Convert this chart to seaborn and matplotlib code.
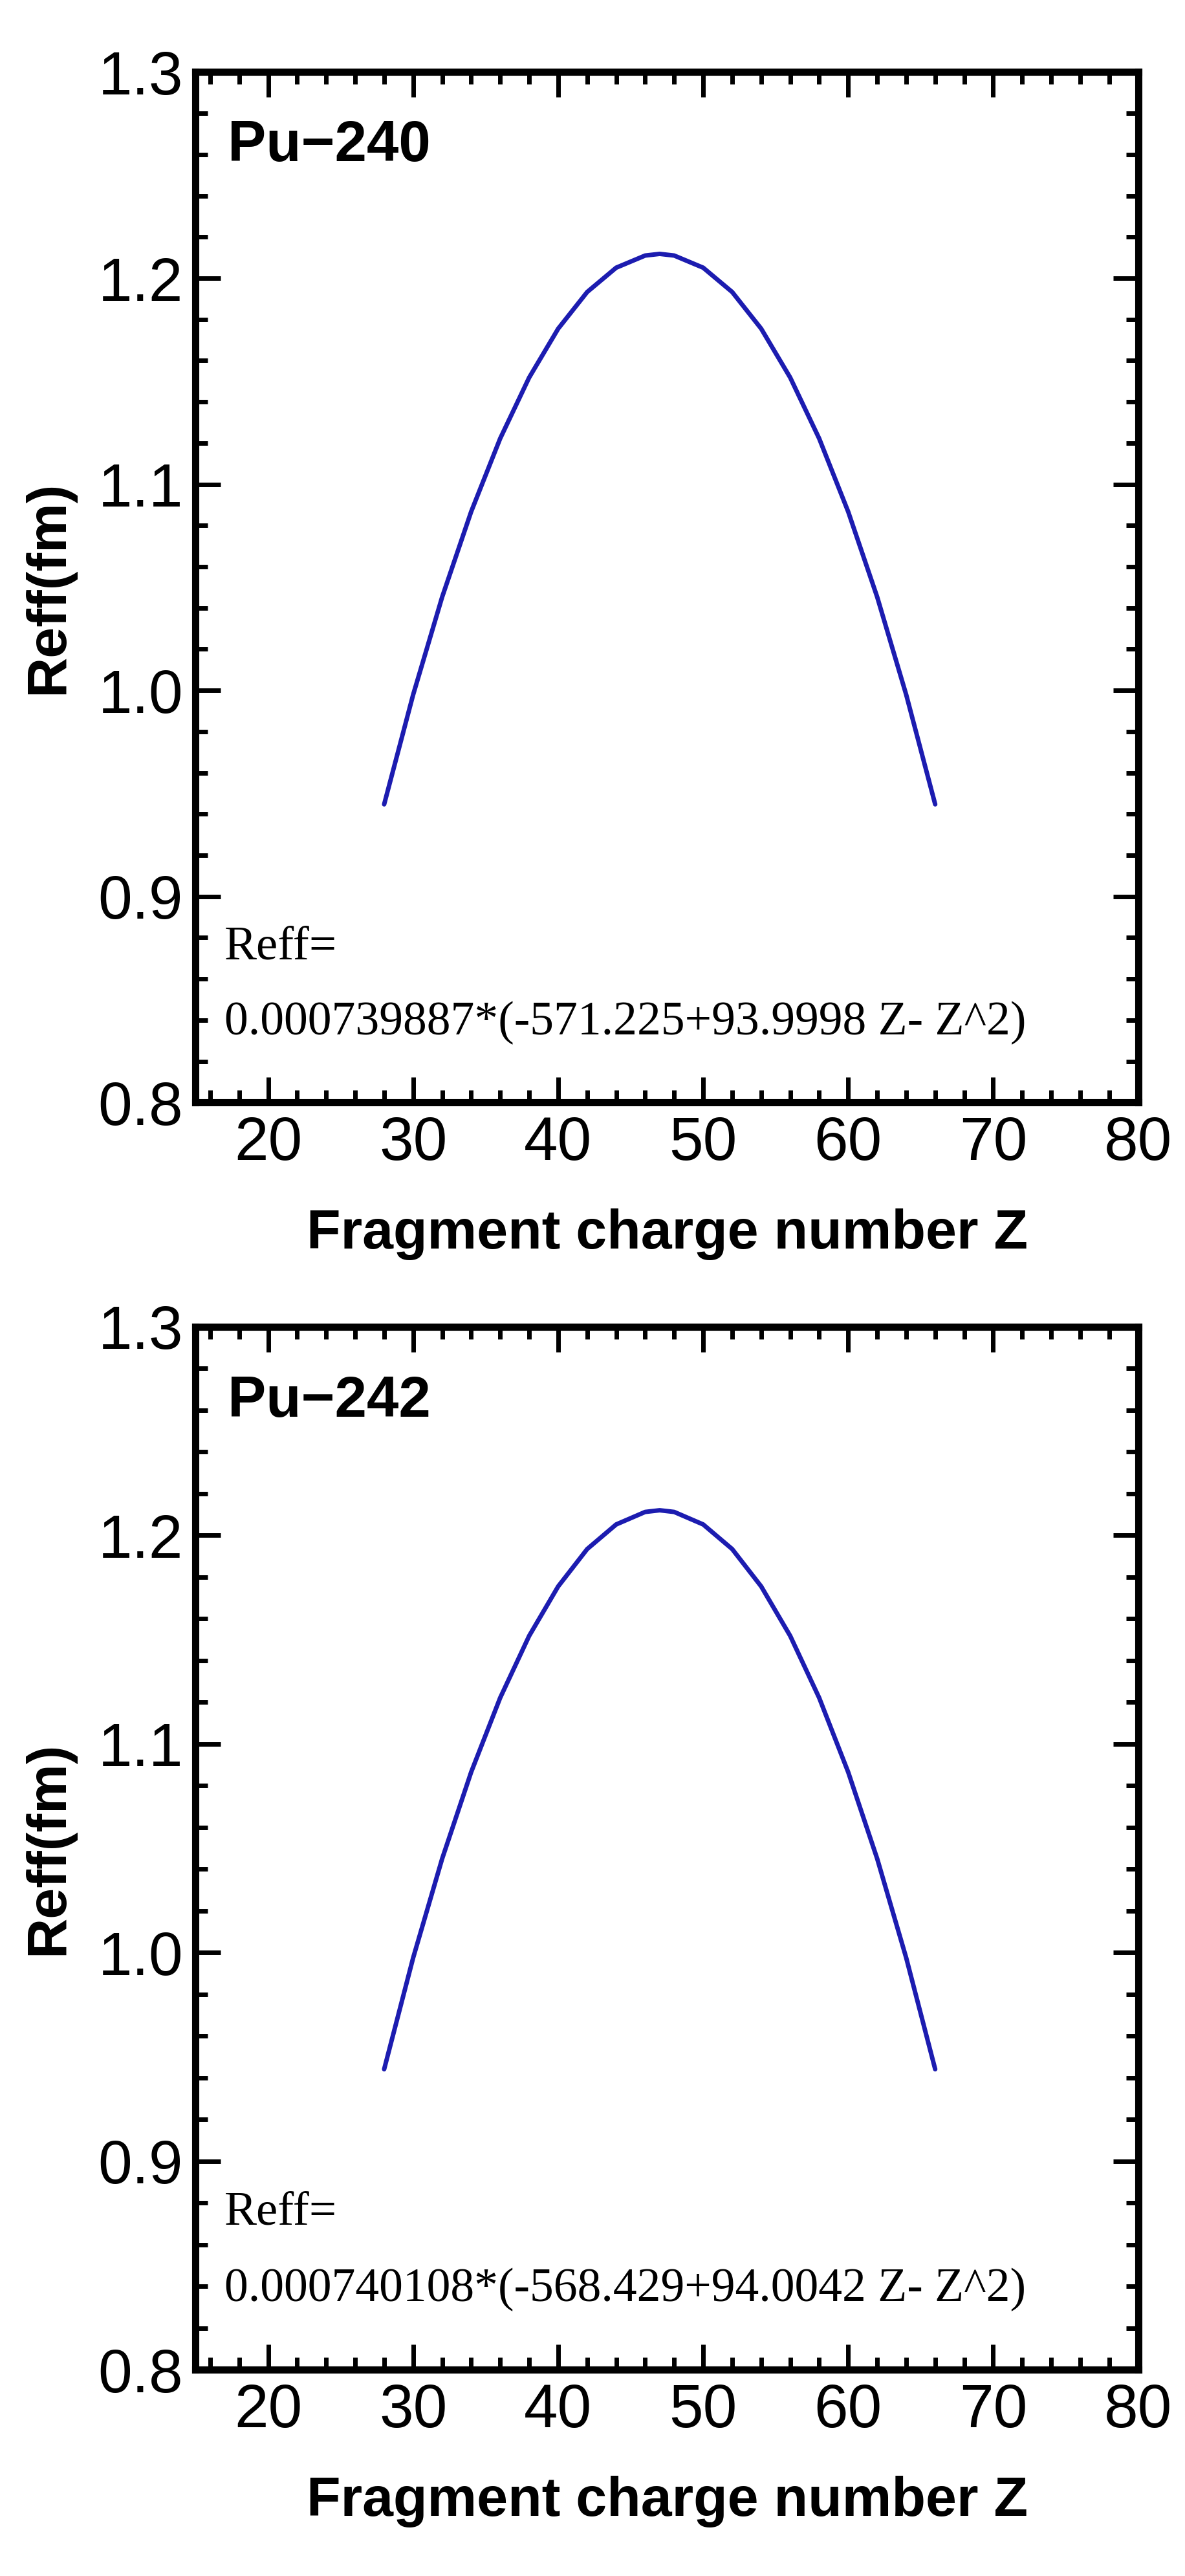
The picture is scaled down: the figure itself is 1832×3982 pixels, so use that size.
import numpy as np
import pandas as pd
import matplotlib
matplotlib.use("Agg")
import matplotlib.pyplot as plt
import seaborn as sns
from matplotlib.ticker import MultipleLocator

sns.set_style("ticks")
plt.rcParams['font.family'] = ['Liberation Sans', 'DejaVu Sans']
plt.rcParams['text.color'] = 'black'
plt.rcParams['axes.labelcolor'] = 'black'
plt.rcParams['xtick.color'] = 'black'
plt.rcParams['ytick.color'] = 'black'
plt.rcParams['axes.edgecolor'] = 'black'

# values
z_vals = [28, 30, 32, 34, 36, 38, 40, 42, 44, 46, 47, 48, 50, 52, 54, 56, 58, 60, 62, 64, 66]
reff_240 = [0.9447, 0.9979, 1.0453, 1.0867, 1.1222, 1.1518, 1.1755, 1.1933, 1.2051, 1.2110, 1.2118,
            1.2110, 1.2051, 1.1933, 1.1755, 1.1518, 1.1222, 1.0867, 1.0453, 0.9979, 0.9447]
reff_242 = [0.9441, 0.9975, 1.0450, 1.0865, 1.1221, 1.1518, 1.1755, 1.1934, 1.2052, 1.2112, 1.2120,
            1.2112, 1.2052, 1.1934, 1.1755, 1.1518, 1.1221, 1.0865, 1.0450, 0.9975, 0.9441]
labels = ["Pu\u2212240", "Pu\u2212242"]
formulas = ["0.000739887*(-571.225+93.9998 Z- Z^2)",
            "0.000740108*(-568.429+94.0042 Z- Z^2)"]

fig = plt.figure(figsize=(18.33, 39.82), dpi=100)
boxes = [[0.165, 0.572, 0.795, 0.400], [0.165, 0.080, 0.795, 0.405]]

for box, ys, lab, form in zip(boxes, [reff_240, reff_242], labels, formulas):
    ax = fig.add_axes(box)
    df = pd.DataFrame({"Z": z_vals, "Reff": ys})
    sns.lineplot(data=df, x="Z", y="Reff", ax=ax, color="#1c1cb0", linewidth=5)
    ax.set_xlim(15, 80)
    ax.set_ylim(0.8, 1.3)
    ax.xaxis.set_major_locator(MultipleLocator(10))
    ax.xaxis.set_minor_locator(MultipleLocator(2))
    ax.yaxis.set_major_locator(MultipleLocator(0.1))
    ax.yaxis.set_minor_locator(MultipleLocator(0.02))
    ax.yaxis.set_major_formatter(matplotlib.ticker.FormatStrFormatter("%.1f"))
    ax.tick_params(which="both", direction="in", top=True, right=True, width=5)
    ax.tick_params(which="major", length=28, labelsize=68, pad=14)
    ax.tick_params(which="minor", length=14)
    for s in ax.spines.values():
        s.set_linewidth(8)
    ax.set_xlabel("Fragment charge number Z", fontsize=62, fontweight="bold", labelpad=40)
    ax.set_ylabel("Reff(fm)", fontsize=62, fontweight="bold", labelpad=26)
    ax.text(17.2, 1.264, lab, fontsize=64, fontweight="bold", va="center")
    ax.text(17.0, 0.8752, "Reff=", fontsize=54, family="Liberation Serif", va="center")
    ax.text(17.0, 0.8385, form, fontsize=53, family="Liberation Serif", va="center")

fig.savefig("out.png", dpi=100, facecolor="white")
